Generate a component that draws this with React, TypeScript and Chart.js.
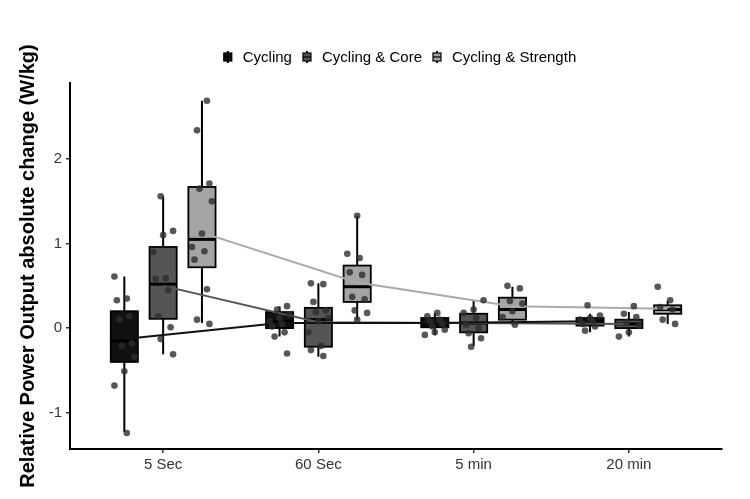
import { useEffect, useRef } from "react"
import { Chart, registerables } from "chart.js"

Chart.register(...registerables)

const categories = ["5 Sec", "60 Sec", "5 min", "20 min"]
const groups = ["Cycling", "Cycling & Core", "Cycling & Strength"]
const yTicks = [-1, 0, 1, 2]

// [lower whisker, q1, median, q3, upper whisker] for each category
const cyclingBoxes = [
    [-1.23, -0.40, -0.15, 0.20, 0.61],
    [-0.10, 0.00, 0.08, 0.19, 0.26],
    [-0.08, 0.01, 0.06, 0.12, 0.18],
    [-0.05, 0.03, 0.08, 0.12, 0.17],
]
const coreBoxes = [
    [-0.31, 0.11, 0.52, 0.96, 1.56],
    [-0.34, -0.22, 0.10, 0.24, 0.53],
    [-0.21, -0.05, 0.06, 0.17, 0.32],
    [-0.10, 0.00, 0.05, 0.10, 0.19],
]
const strengthBoxes = [
    [0.06, 0.72, 1.05, 1.67, 2.69],
    [0.10, 0.31, 0.49, 0.74, 1.33],
    [0.04, 0.10, 0.22, 0.36, 0.49],
    [0.05, 0.17, 0.22, 0.27, 0.32],
]

const cyclingMeans = [-0.13, 0.06, 0.06, 0.08]
const coreMeans = [0.50, 0.07, 0.06, 0.05]
const strengthMeans = [1.13, 0.54, 0.26, 0.23]

const cyclingPoints = [
    [0.61, 0.35, 0.33, 0.14, 0.10, -0.18, -0.21, -0.34, -0.51, -0.68, -1.24],
    [0.26, 0.22, 0.16, 0.12, 0.08, 0.05, 0.02, -0.05, -0.10, -0.30],
    [0.18, 0.14, 0.10, 0.08, 0.05, 0.02, -0.02, -0.05, -0.08],
    [0.27, 0.15, 0.12, 0.10, 0.08, 0.05, 0.02, -0.03],
]
const corePoints = [
    [1.56, 1.15, 1.10, 0.90, 0.59, 0.58, 0.45, 0.14, 0.01, -0.13, -0.31],
    [0.53, 0.52, 0.31, 0.21, 0.19, 0.12, 0.08, -0.05, -0.21, -0.26, -0.33],
    [0.33, 0.22, 0.18, 0.12, 0.04, 0.00, -0.06, -0.12, -0.22],
    [0.26, 0.17, 0.13, 0.07, 0.03, -0.05, -0.10],
]
const strengthPoints = [
    [2.69, 2.34, 1.71, 1.65, 1.50, 1.12, 0.96, 0.91, 0.81, 0.46, 0.10, 0.05],
    [1.33, 0.88, 0.83, 0.66, 0.63, 0.37, 0.34, 0.21, 0.18, 0.10],
    [0.50, 0.47, 0.32, 0.29, 0.20, 0.13, 0.04],
    [0.49, 0.33, 0.25, 0.22, 0.10, 0.05],
]

const allBoxes = [cyclingBoxes, coreBoxes, strengthBoxes]
const allMeans = [cyclingMeans, coreMeans, strengthMeans]
const allPoints = [cyclingPoints, corePoints, strengthPoints]

const fills = ["#111111", "#555555", "#a4a4a4"]
const lineColors = ["#111111", "#555555", "#aaaaaa"]
const dodge = [-0.25, 0, 0.25]
const boxWidth = 0.175
const font = "'Liberation Sans', Arial, Helvetica, sans-serif"

// small fixed spread so the points don't sit on one vertical line
const jitter = (g: number, c: number, i: number) => (((i * 5 + g * 3 + c * 7) % 9) - 4) * 0.016

const boxPlugin = {
    id: "boxes",
    beforeDatasetsDraw(chart: any) {
        const { ctx, scales: { x, y } } = chart
        ctx.save()
        allBoxes.forEach((boxes, g) => {
            boxes.forEach(([lo, q1, med, q3, hi], c) => {
                const pos = c + 1 + dodge[g]
                const cx = x.getPixelForValue(pos)
                const left = x.getPixelForValue(pos - boxWidth / 2)
                const right = x.getPixelForValue(pos + boxWidth / 2)
                ctx.strokeStyle = "#000"
                ctx.lineWidth = 2
                ctx.beginPath()
                ctx.moveTo(cx, y.getPixelForValue(lo))
                ctx.lineTo(cx, y.getPixelForValue(q1))
                ctx.moveTo(cx, y.getPixelForValue(q3))
                ctx.lineTo(cx, y.getPixelForValue(hi))
                ctx.stroke()
                const top = y.getPixelForValue(q3)
                const bottom = y.getPixelForValue(q1)
                ctx.fillStyle = fills[g]
                ctx.fillRect(left, top, right - left, bottom - top)
                ctx.lineWidth = 1.8
                ctx.strokeRect(left, top, right - left, bottom - top)
                ctx.lineWidth = 3
                ctx.beginPath()
                ctx.moveTo(left, y.getPixelForValue(med))
                ctx.lineTo(right, y.getPixelForValue(med))
                ctx.stroke()
            })
        })
        ctx.restore()
    },
}

const legendPlugin = {
    id: "boxLegend",
    afterDraw(chart: any) {
        const { ctx, chartArea } = chart
        ctx.save()
        ctx.font = `15px ${font}`
        ctx.textBaseline = "middle"
        const widths = groups.map(t => ctx.measureText(t).width)
        const total = 4 + widths.reduce((a, w) => a + 15 + w, 0) + 15 * (groups.length - 1)
        let gx = (chartArea.left + chartArea.right) / 2 + 4 - total / 2 + 4
        const cy = 57
        groups.forEach((label, g) => {
            ctx.strokeStyle = "#000"
            ctx.lineWidth = 2
            ctx.beginPath()
            ctx.moveTo(gx, cy - 6)
            ctx.lineTo(gx, cy + 6)
            ctx.stroke()
            ctx.fillStyle = fills[g]
            ctx.fillRect(gx - 4, cy - 4, 8, 8)
            ctx.lineWidth = 1.2
            ctx.strokeRect(gx - 4, cy - 4, 8, 8)
            ctx.beginPath()
            ctx.moveTo(gx - 4, cy)
            ctx.lineTo(gx + 4, cy)
            ctx.stroke()
            ctx.fillStyle = "#000"
            ctx.fillText(label, gx + 15, cy + 1)
            gx += 15 + widths[g] + 15
        })
        ctx.restore()
    },
}

export default function App() {
    const canvasRef = useRef<HTMLCanvasElement>(null)
    useEffect(() => {
        document.body.style.margin = "0"
        const el = canvasRef.current
        if (el == null) return
        const pointSets = allPoints.map((sets, g) => ({
            label: groups[g] + " points",
            data: sets.flatMap((vals, c) => vals.map((v, i) => ({ x: c + 1 + dodge[g] + jitter(g, c, i), y: v }))),
            pointRadius: 3.3,
            pointBackgroundColor: "rgba(45,45,45,0.8)",
            pointBorderWidth: 0,
            order: 0,
        }))
        const meanSets = allMeans.map((means, g) => ({
            label: groups[g],
            data: means.map((m, c) => ({ x: c + 1 + dodge[g], y: m })),
            showLine: true,
            borderColor: lineColors[g],
            borderWidth: 2,
            pointRadius: 0,
            order: 1,
        }))
        const chart = new Chart(el, {
            type: "scatter",
            data: { datasets: [...pointSets, ...meanSets] },
            options: {
                animation: false,
                responsive: true,
                maintainAspectRatio: false,
                layout: { padding: { top: 83, right: 28, left: 0, bottom: 0 } },
                plugins: {
                    legend: { display: false },
                    tooltip: { enabled: false },
                },
                scales: {
                    x: {
                        type: "linear",
                        min: 0.4,
                        max: 4.6,
                        afterBuildTicks: (scale: any) => {
                            scale.ticks = categories.map((_, i) => ({ value: i + 1 }))
                        },
                        afterFit: (scale: any) => { scale.height = 50 },
                        grid: { drawOnChartArea: false, drawTicks: true, tickLength: 4, color: "#333", lineWidth: 1.5 },
                        border: { display: true, color: "#000", width: 2 },
                        ticks: {
                            autoSkip: false,
                            maxRotation: 0,
                            padding: 3,
                            color: "#333",
                            font: { family: font, size: 15 },
                            callback: (v: any) => categories[Number(v) - 1] ?? "",
                        },
                    },
                    y: {
                        type: "linear",
                        min: -1.43,
                        max: 2.9,
                        afterBuildTicks: (scale: any) => {
                            scale.ticks = yTicks.map(v => ({ value: v }))
                        },
                        afterFit: (scale: any) => { scale.width = 70 },
                        grid: { drawOnChartArea: false, drawTicks: true, tickLength: 4, color: "#333", lineWidth: 1.5 },
                        border: { display: true, color: "#000", width: 2 },
                        ticks: {
                            padding: 4,
                            color: "#333",
                            font: { family: font, size: 15 },
                        },
                        title: {
                            display: true,
                            text: "Relative Power Output absolute change (W/kg)",
                            color: "#000",
                            font: { family: font, size: 20, weight: "bold" },
                            padding: { top: 16, bottom: 0 },
                        },
                    },
                },
            },
            plugins: [boxPlugin, legendPlugin],
        })
        return () => chart.destroy()
    }, [])

    return (
        <div style={{ width: 750, height: 499, position: "relative", background: "#fff" }}>
            <canvas ref={canvasRef} />
        </div>
    )
}
